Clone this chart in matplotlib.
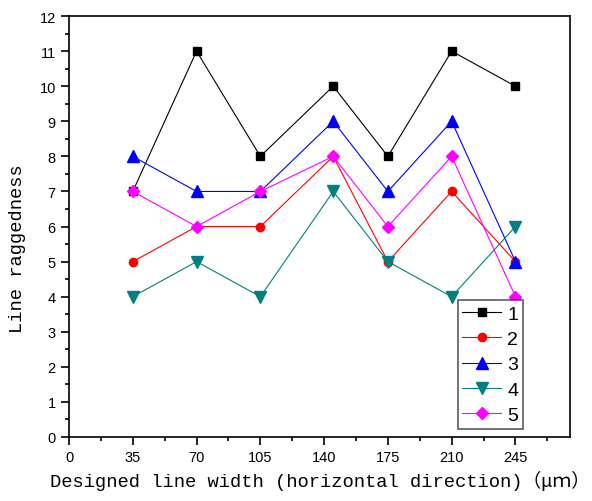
import numpy as np
import matplotlib.pyplot as plt
from matplotlib.ticker import MultipleLocator

# line widths (um); the 4th point sits a bit right of the 140 tick in the original
width = [35, 70, 105, 145, 175, 210, 245]
s1 = [7, 11, 8, 10, 8, 11, 10]
s2 = [5, 6, 6, 8, 5, 7, 5]
s3 = [8, 7, 7, 9, 7, 9, 5]
s4 = [4, 5, 4, 7, 5, 4, 6]
s5 = [7, 6, 7, 8, 6, 8, 4]
labels = ['1', '2', '3', '4', '5']

fig = plt.figure(figsize=(5.92, 5.02), dpi=100)
ax = fig.add_axes([0.1166, 0.1275, 0.963 - 0.1166, 0.966 - 0.1275])

styles = [('black', 's', 6), ('red', 'o', 6), ('blue', '^', 8),
          ('#008080', 'v', 8), ('magenta', 'D', 6)]
for ys, lab, (c, m, ms) in zip([s1, s2, s3, s4, s5], labels, styles):
    ax.plot(width, ys, color=c, marker=m, markersize=ms, lw=0.8, label=lab)

ax.set_xlim(0, 275)
ax.set_ylim(0, 12)
ax.xaxis.set_major_locator(MultipleLocator(35))
ax.xaxis.set_minor_locator(MultipleLocator(17.5))
ax.yaxis.set_major_locator(MultipleLocator(1))
ax.yaxis.set_minor_locator(MultipleLocator(0.5))
ax.tick_params(which='major', direction='out', length=6, width=1.2)
ax.tick_params(which='minor', direction='out', length=3, width=1.2)
ax.tick_params(labelsize=10.5, colors='black')
for lab in ax.get_xticklabels() + ax.get_yticklabels():
    lab.set_family('Liberation Sans')
for sp in ax.spines.values():
    sp.set_linewidth(1.2)

fam = ['Liberation Mono', 'Noto Sans CJK SC']
ax.set_xlabel('Designed line width (horizontal direction)（μｍ）', family=fam, fontsize=13.5, labelpad=4)
ax.set_ylabel('Line raggedness', family=fam, fontsize=13.5)
ax.yaxis.set_label_coords(-0.085, 0.45)

leg = ax.legend(loc='lower right', bbox_to_anchor=(0.906, 0.019), frameon=True, fancybox=False,
                edgecolor='#333333', prop={'family': 'Liberation Sans', 'size': 14},
                handlelength=2.0, handletextpad=0.3, borderpad=0.25, labelspacing=0.4,
                borderaxespad=0)
leg.get_frame().set_linewidth(1.2)

fig.savefig('out.png', dpi=100)
